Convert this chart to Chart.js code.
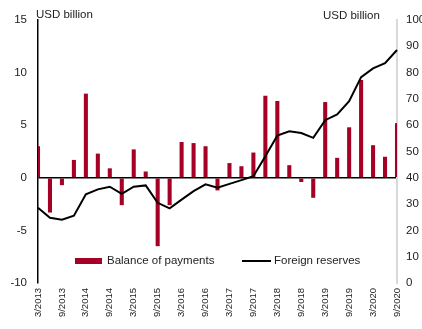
<!DOCTYPE html>
<html>
<head>
<meta charset="utf-8">
<script src="https://cdn.jsdelivr.net/npm/chart.js@4"></script>
<style>
  html, body { margin: 0; padding: 0; background: #fff; }
  #wrap { width: 422px; height: 329px; }
</style>
</head>
<body>
<div id="wrap"><canvas id="chart"></canvas></div>
<script>
const quarters = [
  '3/2013', '6/2013', '9/2013', '12/2013',
  '3/2014', '6/2014', '9/2014', '12/2014',
  '3/2015', '6/2015', '9/2015', '12/2015',
  '3/2016', '6/2016', '9/2016', '12/2016',
  '3/2017', '6/2017', '9/2017', '12/2017',
  '3/2018', '6/2018', '9/2018', '12/2018',
  '3/2019', '6/2019', '9/2019', '12/2019',
  '3/2020', '6/2020', '9/2020',
];

// USD billion, left axis
const balanceOfPayments = [
  3.0, -3.3, -0.7, 1.7,
  8.0, 2.3, 0.9, -2.6,
  2.7, 0.6, -6.5, -2.6,
  3.4, 3.3, 3.0, -1.2,
  1.4, 1.1, 2.4, 7.8,
  7.3, 1.2, -0.4, -1.9,
  7.2, 1.9, 4.8, 9.3,
  3.1, 2.0, 5.2,
];

// USD billion, right axis
const foreignReserves = [
  28.6, 24.8, 24.1, 25.6,
  33.7, 35.6, 36.6, 33.9,
  36.6, 37.1, 30.5, 28.4,
  31.7, 34.9, 37.5, 36.2,
  37.7, 39.1, 40.6, 48.2,
  56.1, 57.7, 57.0, 55.2,
  61.9, 64.1, 69.1, 78.3,
  81.6, 83.6, 88.6,
];

const leftTicks = [-10, -5, 0, 5, 10, 15];
const rightTicks = [0, 10, 20, 30, 40, 50, 60, 70, 80, 90, 100];

const BAR_COLOR = '#a50026';
const FONT = 'Liberation Sans, Arial, sans-serif';

Chart.defaults.font.family = FONT;
Chart.defaults.color = '#222';

// titles and in-plot legend
const annotations = {
  id: 'annotations',
  afterDraw(chart) {
    const { ctx, chartArea } = chart;
    ctx.save();
    ctx.font = `11.5px ${FONT}`;
    ctx.fillStyle = '#222';
    ctx.textBaseline = 'middle';
    ctx.textAlign = 'left';
    ctx.fillText('USD billion', chartArea.left - 2, 15);
    ctx.fillText('USD billion', chartArea.right - 74, 16);

    const ly = chartArea.bottom - 22;
    ctx.fillStyle = BAR_COLOR;
    ctx.fillRect(chartArea.left + 37, ly - 3, 27, 6);
    ctx.fillStyle = '#222';
    ctx.fillText('Balance of payments', chartArea.left + 69, ly);

    ctx.strokeStyle = '#000';
    ctx.lineWidth = 2;
    ctx.beginPath();
    ctx.moveTo(chartArea.left + 204, ly);
    ctx.lineTo(chartArea.left + 233, ly);
    ctx.stroke();
    ctx.fillText('Foreign reserves', chartArea.left + 236, ly);
    ctx.restore();
  },
};

new Chart(document.getElementById('chart').getContext('2d'), {
  data: {
    labels: quarters,
    datasets: [
      {
        type: 'line',
        label: 'Foreign reserves',
        data: foreignReserves,
        yAxisID: 'yRight',
        borderColor: '#000',
        borderWidth: 2,
        pointRadius: 0,
        tension: 0,
        order: 0,
      },
      {
        type: 'bar',
        label: 'Balance of payments',
        data: balanceOfPayments,
        yAxisID: 'yLeft',
        backgroundColor: BAR_COLOR,
        barPercentage: 0.34,
        categoryPercentage: 1,
        order: 1,
      },
    ],
  },
  options: {
    responsive: true,
    maintainAspectRatio: false,
    animation: false,
    layout: { padding: { top: 20, right: 0, left: 0, bottom: 0 } },
    plugins: {
      legend: { display: false },
      tooltip: { enabled: false },
    },
    scales: {
      x: {
        offset: false,
        grid: { display: false, drawTicks: false },
        border: { display: false },
        ticks: {
          autoSkip: false,
          minRotation: 90,
          maxRotation: 90,
          padding: 5,
          font: { size: 9.5 },
          callback(value, index) {
            return index % 2 === 0 ? quarters[index] : '';
          },
        },
        afterFit(axis) { axis.height = 46; },
      },
      yLeft: {
        position: 'left',
        min: leftTicks[0],
        max: leftTicks[leftTicks.length - 1],
        afterBuildTicks(axis) { axis.ticks = leftTicks.map((v) => ({ value: v })); },
        grid: {
          drawTicks: false,
          lineWidth: 1.5,
          color: (c) => (c.tick && c.tick.value === 0 ? '#000' : 'rgba(0,0,0,0)'),
        },
        border: { display: true, color: '#000', width: 1.5 },
        ticks: { padding: 11, font: { size: 11.5 } },
        afterFit(axis) { axis.width = 38; },
      },
      yRight: {
        position: 'right',
        min: rightTicks[0],
        max: rightTicks[rightTicks.length - 1],
        afterBuildTicks(axis) { axis.ticks = rightTicks.map((v) => ({ value: v })); },
        grid: { display: false, drawTicks: false },
        border: { display: true, color: '#d9d9d9', width: 2 },
        ticks: { padding: 9, font: { size: 11.5 } },
        afterFit(axis) { axis.width = 25; },
      },
    },
  },
  plugins: [annotations],
});
</script>
</body>
</html>
